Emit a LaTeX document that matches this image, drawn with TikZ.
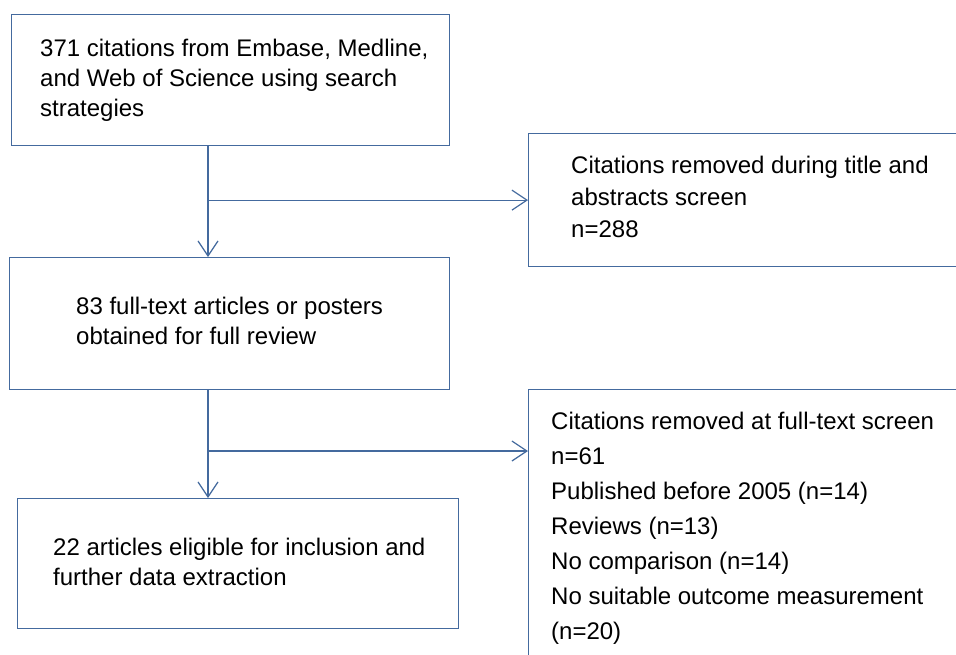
\documentclass[tikz,border=0pt]{standalone}
\usepackage{fontspec}
\setmainfont{Liberation Sans}
\usetikzlibrary{arrows.meta,calc}
\definecolor{linecol}{RGB}{68,106,158}
\begin{document}
\begin{tikzpicture}[x=1pt,y=-1pt,
  boxnode/.style={draw=linecol,line width=1.2pt,rectangle,inner sep=0pt,anchor=north west},
  txt/.style={anchor=north west,inner sep=0pt,align=left,text=black},
  conn/.style={draw=linecol,line width=1.2pt},
  arr/.style={conn,-{Straight Barb[length=15pt,width=20pt,line width=1.2pt]}}]
\useasboundingbox (0,0) rectangle (956,654);
\clip (0,0) rectangle (956,654);
\fill[white] (0,0) rectangle (956,654);
% boxes
\node[boxnode,minimum width=438pt,minimum height=131pt] (b1) at (11,14) {};
\node[boxnode,minimum width=440pt,minimum height=132pt] (b2) at (9,257) {};
\node[boxnode,minimum width=441pt,minimum height=130pt] (b3) at (17,498) {};
\node[boxnode,minimum width=472pt,minimum height=133pt] (r1) at (528,133) {};
\node[boxnode,minimum width=472pt,minimum height=331pt] (r2) at (528,389) {};
% texts
\node[txt,font={\fontsize{24}{30}\selectfont}] (t1) at (40,38.7)
  {371 citations from Embase, Medline,\\and Web of Science using search\\strategies};
\node[txt,font={\fontsize{24}{30}\selectfont}] (t2) at (76,296.7)
  {83 full-text articles or posters\\obtained for full review};
\node[txt,font={\fontsize{24}{30}\selectfont}] (t3) at (53,537.7)
  {22 articles eligible for inclusion and\\further data extraction};
\node[txt,font={\fontsize{24}{32}\selectfont}] (tr1) at (571,156.2)
  {Citations removed during title and\\abstracts screen\\n=288};
\node[txt,font={\fontsize{24}{35}\selectfont}] (tr2) at (551,411.7)
  {Citations removed at full-text screen\\n=61\\Published before 2005 (n=14)\\Reviews (n=13)\\No comparison (n=14)\\No suitable outcome measurement\\(n=20)};
% connectors
\coordinate (cx) at (208,0);
\coordinate (a2) at ($(r2.north west)+(0,62)$);
\draw[arr] (b1.south -| cx) -- (b2.north -| cx);
\draw[arr] (r1.west -| cx) -- (r1.west);
\draw[arr] (b2.south -| cx) -- (b3.north -| cx);
\draw[arr] (a2 -| cx) -- (a2);
\end{tikzpicture}
\end{document}
